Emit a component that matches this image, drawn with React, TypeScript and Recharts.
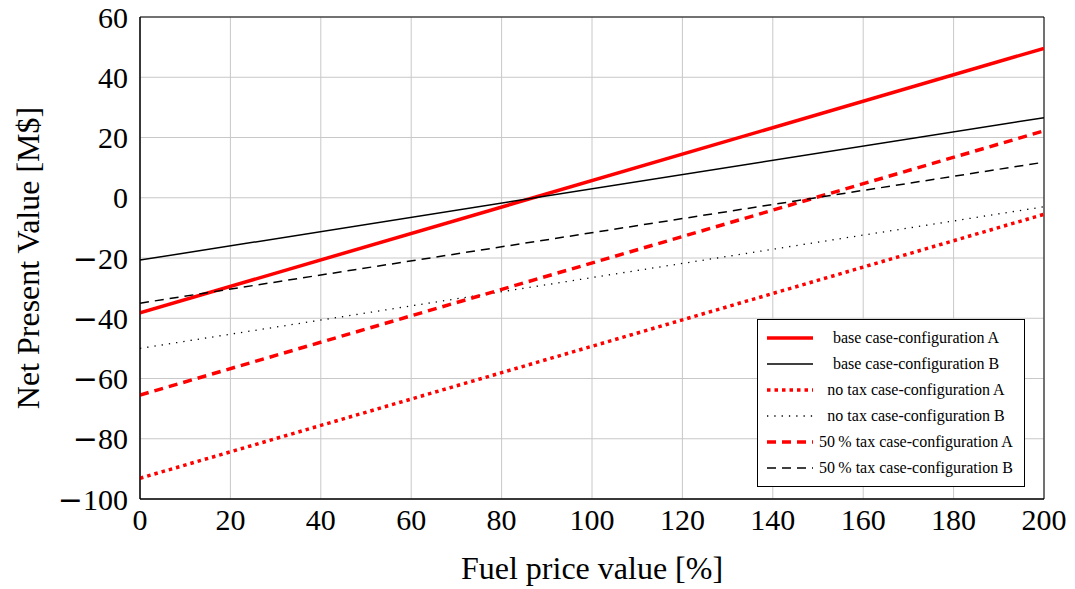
import React from "react";
import {
  LineChart,
  Line,
  XAxis,
  YAxis,
  CartesianGrid,
  Legend,
  ReferenceArea,
} from "recharts";

const fuelPrice = [0, 200];
const baseA = [-38.2, 49.6];
const baseB = [-20.7, 26.6];
const noTaxA = [-93.1, -5.5];
const noTaxB = [-50.0, -3.0];
const taxHalfA = [-65.5, 22.2];
const taxHalfB = [-35.0, 11.8];

const xTicks = [0, 20, 40, 60, 80, 100, 120, 140, 160, 180, 200];
const yTicks = [-100, -80, -60, -40, -20, 0, 20, 40, 60];

const series = [
  { key: "baseA", name: "base case-configuration A", color: "#ff0000", width: 3.5, dash: undefined, values: baseA },
  { key: "baseB", name: "base case-configuration B", color: "#000000", width: 1.5, dash: undefined, values: baseB },
  { key: "noTaxA", name: "no tax case-configuration A", color: "#ff0000", width: 3.5, dash: "3.5 4", values: noTaxA },
  { key: "noTaxB", name: "no tax case-configuration B", color: "#000000", width: 1.3, dash: "1.3 6", values: noTaxB },
  { key: "taxHalfA", name: "50\u2009% tax case-configuration A", color: "#ff0000", width: 3.5, dash: "9 6", values: taxHalfA },
  { key: "taxHalfB", name: "50\u2009% tax case-configuration B", color: "#000000", width: 1.5, dash: "9 6", values: taxHalfB },
];

const data = fuelPrice.map((x, i) => {
  const row: any = { x };
  series.forEach((s) => {
    row[s.key] = s.values[i];
  });
  return row;
});

const FONT = "'Liberation Serif', 'DejaVu Serif', serif";

// y tick with a wide TeX-like minus sign
const YTick = (props: any) => {
  const { x, y, payload } = props;
  const v = payload.value as number;
  return (
    <text x={x} y={y} dy="0.355em" textAnchor="end" fontSize={30} fontFamily={FONT} fill="#000">
      {v < 0 && <tspan fontFamily="'DejaVu Serif'">{"\u2212"}</tspan>}
      <tspan>{String(Math.abs(v))}</tspan>
    </text>
  );
};

const LegendBox = () => (
  <div
    style={{
      width: 266,
      height: 161,
      border: "1px solid #000",
      background: "#fff",
      fontFamily: FONT,
      fontSize: 16,
      paddingTop: 5,
      boxSizing: "content-box",
    }}
  >
    {series.map((s) => (
      <div key={s.key} style={{ display: "flex", alignItems: "center", height: 26 }}>
        <svg width={46} height={10} style={{ marginLeft: 9 }}>
          <line
            x1={0}
            y1={5}
            x2={46}
            y2={5}
            stroke={s.color}
            strokeWidth={s.width}
            strokeDasharray={s.dash}
          />
        </svg>
        <div style={{ width: 206, textAlign: "center", whiteSpace: "nowrap" }}>{s.name}</div>
      </div>
    ))}
  </div>
);

const App = () => {
  return (
    <div style={{ position: "absolute", left: 0, top: 0 }}>
      <LineChart
        width={1075}
        height={589}
        data={data}
        margin={{ top: 17, right: 31, left: 0, bottom: 0 }}
        style={{ fontFamily: FONT }}
      >
        <CartesianGrid stroke="#c8c8c8" strokeWidth={1} />
        <XAxis
          type="number"
          dataKey="x"
          domain={[0, 200]}
          ticks={xTicks}
          allowDataOverflow
          height={90}
          tickLine={false}
          tickSize={0}
          tickMargin={10}
          axisLine={{ stroke: "#000" }}
          tick={{ fill: "#000", fontSize: 30, fontFamily: FONT }}
          label={{
            content: (props: any) => {
              const vb = props.viewBox;
              return (
                <text
                  x={vb.x + vb.width / 2}
                  y={568}
                  textAnchor="middle"
                  dominantBaseline="central"
                  fontSize={32}
                  fontFamily={FONT}
                  fill="#000"
                >
                  Fuel price value [%]
                </text>
              );
            },
          }}
        />
        <YAxis
          type="number"
          domain={[-100, 60]}
          ticks={yTicks}
          allowDataOverflow
          width={140}
          tickLine={false}
          tickSize={0}
          tickMargin={12}
          axisLine={{ stroke: "#000" }}
          tick={<YTick />}
          label={{
            content: (props: any) => {
              const vb = props.viewBox;
              const cy = vb.y + vb.height / 2;
              return (
                <text
                  x={28}
                  y={cy}
                  transform={`rotate(-90, 28, ${cy})`}
                  textAnchor="middle"
                  dominantBaseline="central"
                  fontSize={32}
                  fontFamily={FONT}
                  fill="#000"
                >
                  Net Present Value [M$]
                </text>
              );
            },
          }}
        />
        {series.map((s) => (
          <Line
            key={s.key}
            type="linear"
            dataKey={s.key}
            name={s.name}
            stroke={s.color}
            strokeWidth={s.width}
            strokeDasharray={s.dash}
            dot={false}
            activeDot={false}
            isAnimationActive={false}
          />
        ))}
        <ReferenceArea x1={0} x2={200} y1={-100} y2={60} fill="none" stroke="#000" strokeWidth={1} />
        <Legend
          layout="horizontal"
          verticalAlign="middle"
          align="center"
          content={() => <LegendBox />}
          wrapperStyle={{ position: "absolute", left: 757, top: 319, width: "auto", height: "auto" }}
        />
      </LineChart>
    </div>
  );
};

export default App;
